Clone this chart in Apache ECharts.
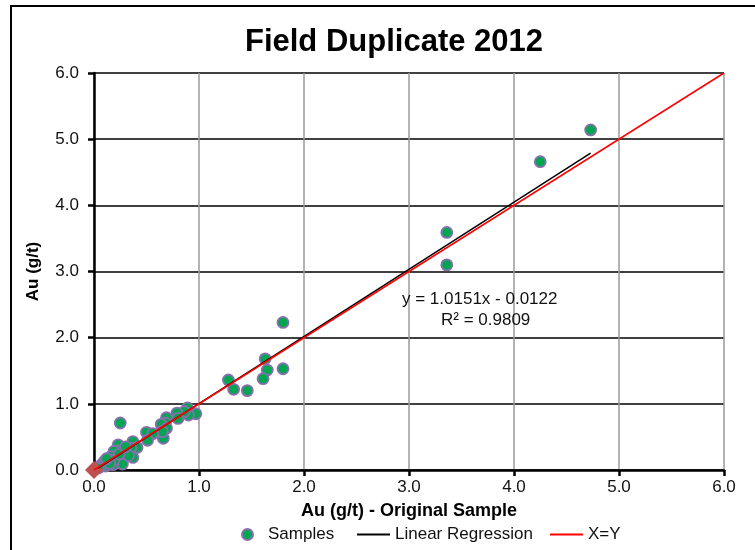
<!DOCTYPE html>
<html>
<head>
<meta charset="utf-8">
<script src="https://cdn.jsdelivr.net/npm/echarts@6/dist/echarts.min.js"></script>
<style>html,body{margin:0;padding:0;background:#fff}#c{width:755px;height:550px}</style>
</head>
<body>
<div id="c"></div>
<script>
// ---- data ----
const titleText = 'Field Duplicate 2012';
const xAxisName = 'Au (g/t) - Original Sample';
const yAxisName = 'Au (g/t)';
const axisTicks = [0, 1, 2, 3, 4, 5, 6];
const sampleX = [4.73, 4.25, 3.36, 3.36, 1.80, 1.63, 1.65, 1.61, 1.80, 1.28, 1.33, 1.46,
  0.97, 0.89, 0.90, 0.86, 0.79, 0.80, 0.69, 0.68, 0.64, 0.69, 0.66, 0.65, 0.50, 0.56, 0.51,
  0.37, 0.41, 0.35, 0.29, 0.25, 0.23, 0.22, 0.19, 0.37, 0.27, 0.27, 0.16, 0.13, 0.18, 0.10,
  0.11, 0.07, 0.19, 0.33, 0.06, 0.04, 0.15, 0.24, 0.30, 0.12];
const sampleY = [5.14, 4.66, 3.59, 3.10, 2.23, 1.68, 1.51, 1.38, 1.53, 1.36, 1.22, 1.20,
  0.85, 0.94, 0.83, 0.88, 0.86, 0.78, 0.79, 0.71, 0.69, 0.63, 0.48, 0.58, 0.57, 0.55, 0.45,
  0.43, 0.34, 0.33, 0.28, 0.71, 0.38, 0.29, 0.28, 0.19, 0.18, 0.09, 0.20, 0.13, 0.08, 0.13,
  0.06, 0.08, 0.15, 0.22, 0.05, 0.03, 0.10, 0.24, 0.35, 0.17];
const regSlope = 1.0151;
const regIntercept = -0.0122;
const regR2 = 0.9809;
const xyLineX = [0, 6];
const xyLineY = [0, 6];

// ---- build ----
const samples = sampleX.map((x, i) => [x, sampleY[i]]);
const xMin = Math.min(...sampleX), xMax = Math.max(...sampleX);
const regLine = [[xMin, regSlope * xMin + regIntercept], [xMax, regSlope * xMax + regIntercept]];
const xyLine = xyLineX.map((x, i) => [x, xyLineY[i]]);

const font = '"Liberation Sans", Arial, sans-serif';
const chart = echarts.init(document.getElementById('c'), null, {renderer: 'canvas'});

const axisCommon = {
  type: 'value', min: axisTicks[0], max: axisTicks[axisTicks.length - 1], interval: 1,
  nameLocation: 'middle',
  nameTextStyle: {fontFamily: font, fontWeight: 'bold', fontSize: 17, color: '#000'},
  axisLine: {show: true, onZero: false, lineStyle: {color: '#000', width: 2.5}},
  axisTick: {show: true, inside: false, length: 6, lineStyle: {color: '#000', width: 2.5}},
  axisLabel: {fontFamily: font, fontSize: 17, color: '#111', formatter: v => v.toFixed(1)}
};

chart.setOption({
  animation: false,
  backgroundColor: '#fff',
  title: {
    text: titleText, left: 389, top: 22, textAlign: 'center',
    textStyle: {fontFamily: font, fontWeight: 'bold', fontSize: 31, color: '#000'}
  },
  grid: {left: 94, right: 31, top: 73, bottom: 80},
  xAxis: Object.assign({}, axisCommon, {
    name: xAxisName, nameGap: 32,
    nameTextStyle: Object.assign({}, axisCommon.nameTextStyle, {fontSize: 18}),
    axisLabel: Object.assign({}, axisCommon.axisLabel, {margin: 9}),
    splitLine: {show: true, lineStyle: {color: '#9a9a9a', width: 1.5}}
  }),
  yAxis: Object.assign({}, axisCommon, {
    name: yAxisName, nameGap: 52,
    axisLabel: Object.assign({}, axisCommon.axisLabel, {margin: 15}),
    splitLine: {show: true, lineStyle: {color: '#000', width: 1.5}}
  }),
  legend: [
    {
      data: [{name: 'Samples', icon: 'circle'}],
      left: 236, top: 521, itemWidth: 11, itemHeight: 11,
      textStyle: {fontFamily: font, fontSize: 17, color: '#111', padding: [0, 0, 0, 10]}
    },
    {
      data: [{name: 'Linear Regression', icon: 'rect'}, {name: 'X=Y', icon: 'rect'}],
      left: 352, top: 521, itemWidth: 33, itemHeight: 2, itemGap: 17,
      textStyle: {fontFamily: font, fontSize: 17, color: '#111'}
    }
  ],
  graphic: [
    {type: 'rect', shape: {x: 11, y: 6, width: 800, height: 600}, style: {fill: 'none', stroke: '#000', lineWidth: 2}, z: 100},
    {type: 'text', left: 402, top: 291, style: {text: 'y = ' + regSlope.toFixed(4) + 'x - ' + Math.abs(regIntercept).toFixed(4), font: '17px ' + font, fill: '#111'}, z: 100},
    {type: 'text', left: 441, top: 312, style: {text: 'R² = ' + regR2.toFixed(4), font: '17px ' + font, fill: '#111'}, z: 100}
  ],
  series: [
    {
      name: 'Samples', type: 'scatter', data: samples, symbol: 'circle', symbolSize: 11,
      itemStyle: {color: '#00a651', borderColor: '#8a6fb0', borderWidth: 1.8, opacity: 1}, z: 2
    },
    {
      name: 'origin', type: 'scatter', data: [xyLine[0]], symbol: 'diamond', symbolSize: 18,
      itemStyle: {color: '#c0504d', opacity: 1}, clip: false, z: 3, silent: true
    },
    {
      name: 'Linear Regression', type: 'line', data: regLine, showSymbol: false, symbol: 'none',
      lineStyle: {color: '#000', width: 1.5}, itemStyle: {color: '#000'}, z: 4
    },
    {
      name: 'X=Y', type: 'line', data: xyLine, showSymbol: false, symbol: 'none',
      lineStyle: {color: '#ff0000', width: 1.5}, itemStyle: {color: '#ff0000'}, z: 5
    }
  ]
});
</script>
</body>
</html>
